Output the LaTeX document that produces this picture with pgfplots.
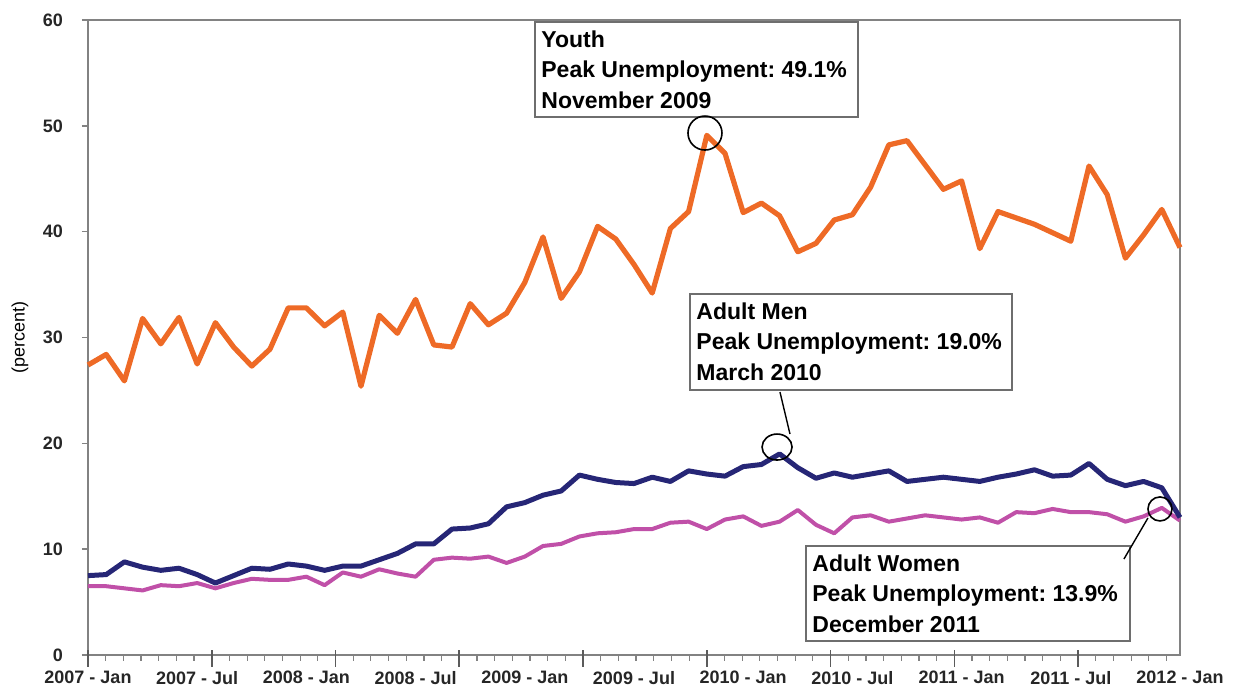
\documentclass[border=0pt]{standalone}
\usepackage{pgfplots}
\usepackage{pgfplotstable}
\pgfplotsset{compat=1.18}
\usepackage{fontspec}
\setmainfont{Liberation Sans}
\frenchspacing
\definecolor{youth}{RGB}{238,106,38}
\definecolor{men}{RGB}{38,38,118}
\definecolor{women}{RGB}{192,80,168}
\definecolor{axgray}{RGB}{130,130,130}
\definecolor{boxgray}{RGB}{110,110,110}

\pgfplotstableread{
i youth men women
0 27.4 7.5 6.5
1 28.4 7.6 6.5
2 25.9 8.8 6.3
3 31.8 8.3 6.1
4 29.4 8.0 6.6
5 31.9 8.2 6.5
6 27.5 7.6 6.8
7 31.4 6.8 6.3
8 29.1 7.5 6.8
9 27.3 8.2 7.2
10 28.9 8.1 7.1
11 32.8 8.6 7.1
12 32.8 8.4 7.4
13 31.1 8.0 6.6
14 32.4 8.4 7.8
15 25.4 8.4 7.4
16 32.1 9.0 8.1
17 30.4 9.6 7.7
18 33.6 10.5 7.4
19 29.3 10.5 9.0
20 29.1 11.9 9.2
21 33.2 12.0 9.1
22 31.2 12.4 9.3
23 32.3 14.0 8.7
24 35.2 14.4 9.3
25 39.5 15.1 10.3
26 33.7 15.5 10.5
27 36.2 17.0 11.2
28 40.5 16.6 11.5
29 39.3 16.3 11.6
30 36.9 16.2 11.9
31 34.2 16.8 11.9
32 40.3 16.4 12.5
33 41.9 17.4 12.6
34 49.1 17.1 11.9
35 47.4 16.9 12.8
36 41.8 17.8 13.1
37 42.7 18.0 12.2
38 41.5 19.0 12.6
39 38.1 17.7 13.7
40 38.9 16.7 12.3
41 41.1 17.2 11.5
42 41.6 16.8 13.0
43 44.2 17.1 13.2
44 48.2 17.4 12.6
45 48.6 16.4 12.9
46 46.3 16.6 13.2
47 44.0 16.8 13.0
48 44.8 16.6 12.8
49 38.4 16.4 13.0
50 41.9 16.8 12.5
51 41.3 17.1 13.5
52 40.7 17.5 13.4
53 39.9 16.9 13.8
54 39.1 17.0 13.5
55 46.2 18.1 13.5
56 43.5 16.6 13.3
57 37.5 16.0 12.6
58 39.7 16.4 13.1
59 42.1 15.8 13.9
60 38.5 13.0 12.7
}\datatable

\begin{document}
\begin{tikzpicture}
\useasboundingbox (-44pt,-18pt) rectangle (573pt,327.5pt);
\begin{axis}[
  at={(0,0)}, anchor=south west,
  scale only axis, width=546pt, height=317.5pt,
  xmin=0, xmax=60, ymin=0, ymax=60,
  ytick={0,10,...,60},
  xtick={0,6,...,60},
  xticklabels={2007 - Jan,2007 - Jul,2008 - Jan,2008 - Jul,2009 - Jan,2009 - Jul,2010 - Jan,2010 - Jul,2011 - Jan,2011 - Jul,2012 - Jan},
  xtick style={draw=none},
  tick align=outside,
  major tick length=3pt,
  xtick pos=bottom, ytick pos=left,
  ytick style={axgray, line width=0.7pt},
  axis line style={draw=axgray, line width=0.9pt},
  tick label style={font=\bfseries\fontsize{9}{10}\selectfont, text=black!85},
  /pgf/number format/assume math mode=true,
  yticklabel style={xshift=-6pt},
  xticklabel style={yshift=-1.5pt},
  ylabel={(percent)},
  every axis y label/.style={at={(axis description cs:-0.0622,0.5)}, rotate=90, anchor=center, font=\fontsize{9}{10}\selectfont},
  clip=false,
]
\addplot[women, line width=2pt, line join=round] table[x=i, y=women] {\datatable};
\addplot[men, line width=2.5pt, line join=round] table[x=i, y=men] {\datatable};
\addplot[youth, line width=2.6pt, line join=round] table[x=i, y=youth] {\datatable};

% x axis ticks
\pgfplotsinvokeforeach{1,...,61}{%
  \pgfmathsetmacro\mx{#1*0.971428}%
  \edef\temp{\noexpand\draw[axgray, line width=0.6pt] (axis cs:\mx,0) -- ++(0,-3pt);}%
  \temp
}
\pgfplotsinvokeforeach{0,...,8}{%
  \pgfmathsetmacro\mx{#1*6.8}%
  \edef\temp{\noexpand\draw[axgray!70!black, line width=0.8pt] (axis cs:\mx,0) ++(0,2.5pt) -- ++(0,-8.5pt);}%
  \temp
}

% annotations
\draw[boxgray, line width=0.8pt, fill=white] (axis cs:24.56,59.81) rectangle (axis cs:42.31,50.84);
\node[anchor=north west, align=left, inner sep=0pt, font=\bfseries\fontsize{11.5}{15.3}\selectfont] at (axis cs:24.56,59.81) [xshift=3pt, yshift=-4pt] {Youth\\Peak Unemployment: 49.1\%\\November 2009};
\draw[black, line width=0.8pt] (axis cs:33.9,49.32) circle [radius=8.5pt];

\draw[boxgray, line width=0.8pt, fill=white] (axis cs:33.08,34.11) rectangle (axis cs:50.77,25.04);
\node[anchor=north west, align=left, inner sep=0pt, font=\bfseries\fontsize{11.5}{15.3}\selectfont] at (axis cs:33.08,34.11) [xshift=3pt, yshift=-4pt] {Adult Men\\Peak Unemployment: 19.0\%\\March 2010};
\draw[black, line width=0.7pt] (axis cs:38.02,24.85) -- (axis cs:38.57,20.88);
\draw[black, line width=0.8pt] (axis cs:37.86,19.65) ellipse [x radius=7.5pt, y radius=6.5pt];

\draw[boxgray, line width=0.8pt, fill=white] (axis cs:39.45,10.30) rectangle (axis cs:57.25,1.32);
\node[anchor=north west, align=left, inner sep=0pt, font=\bfseries\fontsize{11.5}{15.3}\selectfont] at (axis cs:39.45,10.30) [xshift=3pt, yshift=-4pt] {Adult Women\\Peak Unemployment: 13.9\%\\December 2011};
\draw[black, line width=0.7pt] (axis cs:56.92,9.07) -- (axis cs:58.24,12.95);
\draw[black, line width=0.8pt] (axis cs:58.9,13.8) circle [radius=6pt];
\end{axis}
\end{tikzpicture}
\end{document}
